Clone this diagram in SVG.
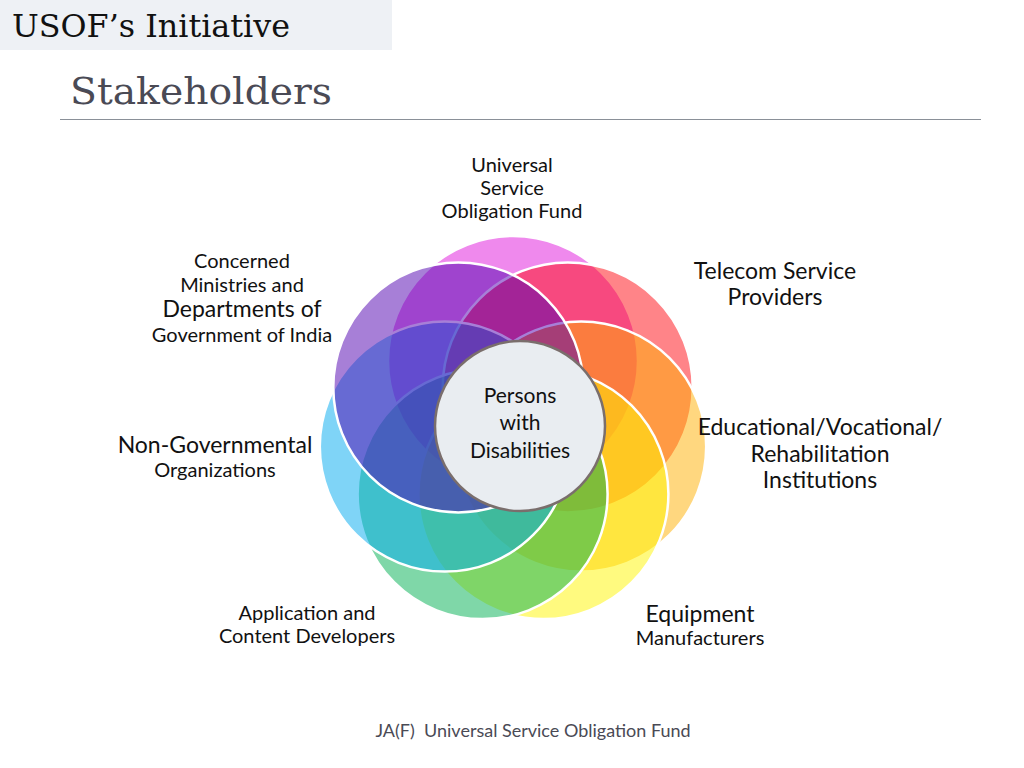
<svg xmlns="http://www.w3.org/2000/svg" width="1024" height="768" viewBox="0 0 1024 768">
<style>
.petal{stroke:#FFFFFF;stroke-width:2.5;fill-opacity:0.5}
.lbl{font-family:Lato,"Open Sans","DejaVu Sans",sans-serif;fill:#111111;text-anchor:middle}
.s20{font-size:20px}
.s22{font-size:23px}
</style>
<rect x="0" y="0" width="392" height="50" fill="#EEF1F5"/>
<text x="12" y="37" font-family="'DejaVu Serif','Liberation Serif',serif" font-size="31" fill="#111111" textLength="278" lengthAdjust="spacingAndGlyphs">USOF’s Initiative</text>
<text x="70" y="104" font-family="'DejaVu Serif','Liberation Serif',serif" font-size="37" fill="#4A4A55" textLength="262" lengthAdjust="spacingAndGlyphs">Stakeholders</text>
<line x1="60" y1="119.5" x2="981" y2="119.5" stroke="#8A9098" stroke-width="1.2"/>

<g id="connectors"/>

<g id="node-usof">
<circle class="petal" cx="513" cy="361" r="125" fill="#E014DC"/>
<text class="lbl s20" x="512"><tspan x="512" y="172">Universal</tspan><tspan x="512" y="195">Service</tspan><tspan x="512" y="218">Obligation Fund</tspan></text>
</g>
<g id="node-telecom">
<circle class="petal" cx="567.7" cy="387.4" r="125" fill="#FF0A12"/>
<text class="lbl s22"><tspan x="775" y="279">Telecom Service</tspan><tspan x="775" y="305">Providers</tspan></text>
</g>
<g id="node-educational">
<circle class="petal" cx="581.2" cy="446.6" r="125" fill="#FFB000"/>
<text class="lbl s22"><tspan x="820" y="435">Educational/Vocational/</tspan><tspan x="820" y="462">Rehabilitation</tspan><tspan x="820" y="488">Institutions</tspan></text>
</g>
<g id="node-equipment">
<circle class="petal" cx="543.4" cy="494.1" r="125" fill="#FFF500"/>
<text class="lbl"><tspan class="s22" x="700" y="622">Equipment</tspan><tspan class="s20" x="700" y="645">Manufacturers</tspan></text>
</g>
<g id="node-developers">
<circle class="petal" cx="482.6" cy="494.1" r="125" fill="#00B052"/>
<text class="lbl s20"><tspan x="307" y="620">Application and</tspan><tspan x="307" y="643">Content Developers</tspan></text>
</g>
<g id="node-ngo">
<circle class="petal" cx="444.8" cy="446.6" r="125" fill="#00A9F0"/>
<text class="lbl"><tspan class="s22" x="215" y="453">Non-Governmental</tspan><tspan class="s20" x="215" y="477">Organizations</tspan></text>
</g>
<g id="node-ministries">
<circle class="petal" cx="458.3" cy="387.4" r="125" fill="#5000B0"/>
<text class="lbl"><tspan class="s20" x="242" y="268">Concerned</tspan><tspan class="s20" x="242" y="292">Ministries and</tspan><tspan class="s22" x="242" y="317">Departments of</tspan><tspan class="s20" x="242" y="342">Government of India</tspan></text>
</g>
<g id="node-pwd">
<circle cx="520" cy="426" r="85" fill="#E9EDF1" stroke="#7A6E6C" stroke-width="2.5"/>
<text class="lbl" font-size="21"><tspan x="520" y="403">Persons</tspan><tspan x="520" y="430">with</tspan><tspan x="520" y="458">Disabilities</tspan></text>
</g>

<text x="533" y="737" font-family="Lato,'Open Sans','DejaVu Sans',sans-serif" font-size="18" fill="#4A4A55" text-anchor="middle" xml:space="preserve">JA(F)  Universal Service Obligation Fund</text>
</svg>
